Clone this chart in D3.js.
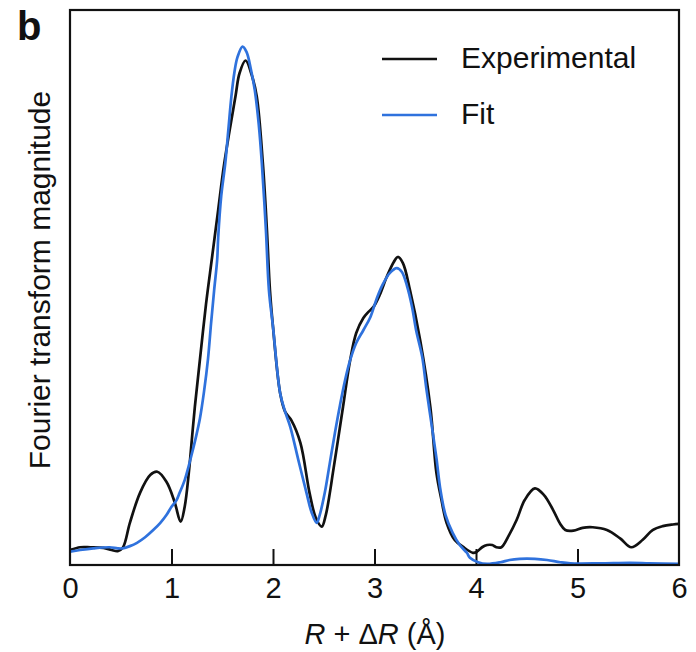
<!DOCTYPE html>
<html>
<head>
<meta charset="utf-8">
<script src="https://cdn.jsdelivr.net/npm/d3@7"></script>
<style>
  html, body { margin: 0; padding: 0; background: #fff; }
  svg { display: block; font-family: "Liberation Sans", Arial, Helvetica, sans-serif; }
</style>
</head>
<body>
<svg id="chart" width="696" height="652"></svg>
<script>
// R + ΔR (Å) positions and Fourier transform magnitudes (arbitrary units)
const expR = [0.00,0.10,0.20,0.33,0.41,0.47,0.52,0.59,0.69,0.79,0.86,0.95,1.03,1.09,1.13,1.17,1.20,1.23,1.28,1.34,1.40,1.46,1.52,1.63,1.67,1.73,1.79,1.84,1.90,1.94,1.97,2.00,2.07,2.12,2.18,2.27,2.36,2.42,2.48,2.52,2.56,2.59,2.64,2.69,2.76,2.82,2.89,2.94,2.99,3.05,3.12,3.19,3.23,3.28,3.35,3.45,3.55,3.61,3.66,3.71,3.79,3.87,3.97,4.01,4.06,4.11,4.16,4.20,4.25,4.32,4.40,4.48,4.58,4.67,4.76,4.83,4.88,4.96,5.05,5.15,5.29,5.42,5.53,5.64,5.74,5.84,5.94,6.00];
const expMag = [0.027,0.032,0.032,0.031,0.027,0.025,0.031,0.076,0.130,0.162,0.168,0.150,0.114,0.078,0.105,0.165,0.225,0.285,0.370,0.470,0.555,0.640,0.724,0.844,0.886,0.909,0.883,0.844,0.724,0.604,0.495,0.429,0.310,0.276,0.261,0.220,0.130,0.086,0.069,0.090,0.130,0.166,0.225,0.285,0.369,0.418,0.445,0.456,0.465,0.486,0.519,0.546,0.555,0.544,0.495,0.405,0.285,0.166,0.117,0.076,0.045,0.033,0.022,0.024,0.032,0.036,0.036,0.032,0.032,0.052,0.081,0.117,0.138,0.126,0.099,0.074,0.063,0.062,0.067,0.068,0.063,0.048,0.032,0.045,0.063,0.070,0.073,0.074];

const fitR = [0.00,0.10,0.23,0.39,0.47,0.52,0.59,0.66,0.74,0.82,0.89,0.95,1.00,1.05,1.08,1.13,1.16,1.20,1.24,1.28,1.32,1.36,1.39,1.42,1.45,1.46,1.49,1.53,1.56,1.59,1.62,1.65,1.70,1.74,1.78,1.82,1.86,1.89,1.93,1.96,2.00,2.07,2.12,2.17,2.25,2.33,2.38,2.43,2.46,2.51,2.56,2.61,2.66,2.71,2.76,2.82,2.89,2.96,3.02,3.08,3.15,3.22,3.27,3.32,3.37,3.41,3.47,3.51,3.56,3.61,3.65,3.70,3.77,3.84,3.91,3.94,4.02,4.11,4.24,4.33,4.43,4.58,4.70,4.83,4.93,5.22,5.52,5.71,6.00];
const fitMag = [0.024,0.027,0.030,0.032,0.030,0.030,0.034,0.040,0.050,0.063,0.076,0.090,0.105,0.117,0.130,0.153,0.172,0.200,0.230,0.264,0.312,0.372,0.436,0.495,0.550,0.590,0.665,0.724,0.784,0.844,0.888,0.915,0.934,0.924,0.895,0.856,0.793,0.724,0.604,0.495,0.429,0.310,0.276,0.249,0.189,0.130,0.095,0.076,0.090,0.130,0.184,0.238,0.288,0.333,0.369,0.400,0.423,0.447,0.479,0.505,0.526,0.535,0.528,0.503,0.465,0.423,0.375,0.319,0.256,0.193,0.135,0.090,0.058,0.036,0.022,0.013,0.005,0.002,0.005,0.009,0.011,0.011,0.009,0.005,0.003,0.003,0.004,0.003,0.002];

const xTicks = [0, 1, 2, 3, 4, 5, 6];
const seriesNames = ["Experimental", "Fit"];
const seriesColors = ["#111111", "#2f72dd"];

const svg = d3.select("#chart");
const plot = { left: 70, right: 679, top: 10, bottom: 565 };

const x = d3.scaleLinear().domain([0, 6]).range([plot.left, plot.right]);
const y = d3.scaleLinear().domain([0, 1]).range([plot.bottom, plot.top]);

svg.append("defs").append("clipPath").attr("id", "plotClip")
  .append("rect")
  .attr("x", plot.left).attr("y", plot.top)
  .attr("width", plot.right - plot.left).attr("height", plot.bottom - plot.top);

// Bottom axis: inward ticks, labels below
const xAxis = d3.axisBottom(x).tickValues(xTicks).tickSize(-16).tickPadding(12).tickFormat(d3.format("d"));
const gx = svg.append("g").attr("transform", `translate(0,${plot.bottom})`).call(xAxis);
gx.select(".domain").remove();
gx.selectAll(".tick line").attr("stroke", "#111").attr("stroke-width", 2)
  .filter(d => d === 0 || d === 6).remove();
gx.selectAll(".tick text")
  .attr("font-size", 29).attr("fill", "#111")
  .attr("font-family", "\"Liberation Sans\", Arial, Helvetica, sans-serif");

const line = d3.line()
  .x(d => x(d[0]))
  .y(d => y(d[1]))
  .curve(d3.curveCatmullRom.alpha(0.5));

const expData = expR.map((r, i) => [r, expMag[i]]);
const fitData = fitR.map((r, i) => [r, fitMag[i]]);

const curves = svg.append("g").attr("clip-path", "url(#plotClip)");
curves.append("path").datum(expData)
  .attr("d", line).attr("fill", "none")
  .attr("stroke", seriesColors[0]).attr("stroke-width", 2.7)
  .attr("stroke-linejoin", "round");
curves.append("path").datum(fitData)
  .attr("d", line).attr("fill", "none")
  .attr("stroke", seriesColors[1]).attr("stroke-width", 2.7)
  .attr("stroke-linejoin", "round");

// Plot frame
svg.append("rect")
  .attr("x", plot.left).attr("y", plot.top)
  .attr("width", plot.right - plot.left).attr("height", plot.bottom - plot.top)
  .attr("fill", "none").attr("stroke", "#111").attr("stroke-width", 2.2);

// Legend
const legend = svg.append("g");
seriesNames.forEach((name, i) => {
  const yy = 59 + i * 56;
  legend.append("line")
    .attr("x1", 382).attr("x2", 437).attr("y1", yy).attr("y2", yy)
    .attr("stroke", seriesColors[i]).attr("stroke-width", 2.4);
  legend.append("text")
    .attr("x", 461).attr("y", yy + 9)
    .attr("font-size", 30).attr("fill", "#111")
    .text(name);
});

// Axis titles
const xTitle = svg.append("text")
  .attr("x", 375).attr("y", 644)
  .attr("text-anchor", "middle").attr("font-size", 29).attr("fill", "#111");
xTitle.append("tspan").attr("font-style", "italic").text("R");
xTitle.append("tspan").text(" + Δ");
xTitle.append("tspan").attr("font-style", "italic").text("R");
xTitle.append("tspan").text(" (Å)");

svg.append("text")
  .attr("transform", "translate(50,280) rotate(-90)")
  .attr("text-anchor", "middle").attr("font-size", 30).attr("fill", "#111")
  .text("Fourier transform magnitude");

// Panel letter
svg.append("text")
  .attr("x", 17).attr("y", 40)
  .attr("font-size", 40).attr("font-weight", "bold").attr("fill", "#111")
  .text("b");
</script>
</body>
</html>
